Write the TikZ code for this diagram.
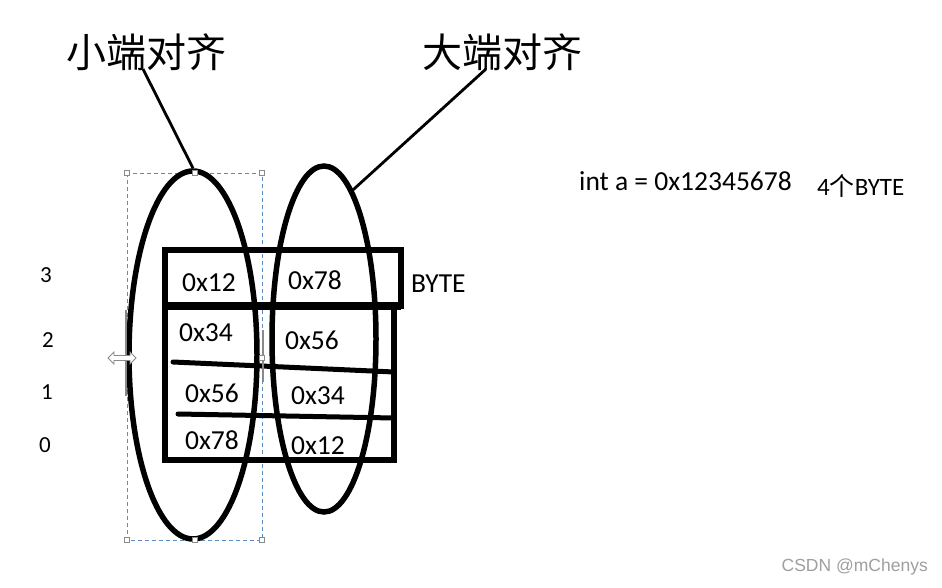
\documentclass[tikz,border=0pt]{standalone}
\usepackage{fontspec}
\setmainfont{Carlito}
\newfontfamily\cjk{Noto Sans CJK SC}
\newfontfamily\wmfont{Liberation Sans}
\usetikzlibrary{shapes.geometric}
\definecolor{selblue}{HTML}{5B8DC9}
\definecolor{handlegray}{HTML}{8A8A8A}
\begin{document}
\begin{tikzpicture}[x=1pt,y=-1pt,
  title/.style={font=\cjk\fontsize{40}{40}\selectfont, inner sep=0},
  cell/.style={font=\fontsize{27.5}{27.5}\selectfont, inner sep=0},
  idx/.style={font=\fontsize{23}{23}\selectfont, inner sep=0},
  oval/.style={ellipse, draw, line width=5.5pt, inner sep=0},
  leader/.style={line width=2.8pt},
  grid/.style={line width=5.5pt},
  handle/.style={draw=handlegray, fill=white, line width=0.8pt, minimum size=5pt, inner sep=0},
  sel/.style={draw=selblue, line width=0.9pt, dash pattern=on 4pt off 3pt}
]
\useasboundingbox (0,0) rectangle (942,588);
\fill[white] (0,0) rectangle (942,588);

% titles
\node[title] (tl) at (146,52) {小端对齐};
\node[title] (tr) at (502,52) {大端对齐};

% selection rectangle around left ellipse
\draw[sel] (127,173) rectangle (262,540);

% ellipses
\node[oval, minimum width=128pt, minimum height=368pt] (L) at (193,355) {};
\node[oval, minimum width=104pt, minimum height=346pt] (R) at (324,339) {};

% leaders
\coordinate (tla) at (143,69);
\coordinate (tra) at (486,69);
\draw[leader] (tla) -- (L.north);
\draw[leader] (tra) -- (R.79);

% table
\coordinate (t1) at (165,250);
\coordinate (t2) at (401,306);
\coordinate (t3) at (165,306);
\coordinate (t4) at (394,460);
\draw[grid] (t1) rectangle (t2);
\draw[grid] (t3) rectangle (t4);
\draw[line width=8pt] (t3) -- (t2);
\coordinate (h1a) at (173,362);
\coordinate (h1b) at (394,372);
\coordinate (h2a) at (178,414);
\coordinate (h2b) at (394,418);
\draw[line width=5pt, line cap=round] (h1a) -- (h1b);
\draw[line width=5pt, line cap=round] (h2a) -- (h2b);

% cell texts
\node[cell] (c1) at (209,283) {0x12};
\node[cell] (c2) at (315,280) {0x78};
\node[cell] (c3) at (206,333) {0x34};
\node[cell] (c4) at (312,340) {0x56};
\node[cell] (c5) at (212,393) {0x56};
\node[cell] (c6) at (318,396) {0x34};
\node[cell] (c7) at (212,440) {0x78};
\node[cell] (c8) at (318,446) {0x12};
\node[cell, anchor=west] (byte) at (411,284) {BYTE};

% row indices
\node[idx] (i3) at (46,275) {3};
\node[idx] (i2) at (48,340) {2};
\node[idx] (i1) at (47,392) {1};
\node[idx] (i0) at (45,445) {0};

% selection handles
\draw[handlegray, line width=1.6pt] (126,310) -- (126,396);
\draw[handlegray, line width=1.2pt] (263,330) -- (263,382);
\foreach \p/\n in {{127,173}/ha,{195,173}/hb,{262,173}/hc,{127,540}/hd,{195,540}/he,{262,540}/hf,{262,358}/hg}
  \node[handle] (\n) at (\p) {};
% resize cursor
\draw[handlegray, fill=white, line width=0.8pt]
  (108,358) -- (114,352) -- (114,355.5) -- (130,355.5) -- (130,352) -- (136,358)
  -- (130,364) -- (130,360.5) -- (114,360.5) -- (114,364) -- cycle;

% declaration text
\node[font=\fontsize{27.5}{27.5}\selectfont, inner sep=0, anchor=west] (decl) at (579,181) {int a = 0x12345678};
\node[font=\fontsize{25}{25}\selectfont, inner sep=0, anchor=west] (nb) at (817,186) {4{\cjk 个}BYTE};

% watermark
\node[font=\wmfont\fontsize{17.5}{17.5}\selectfont, text=gray!75, inner sep=0, anchor=east] (wm) at (928,567) {CSDN @mChenys};
\end{tikzpicture}
\end{document}
